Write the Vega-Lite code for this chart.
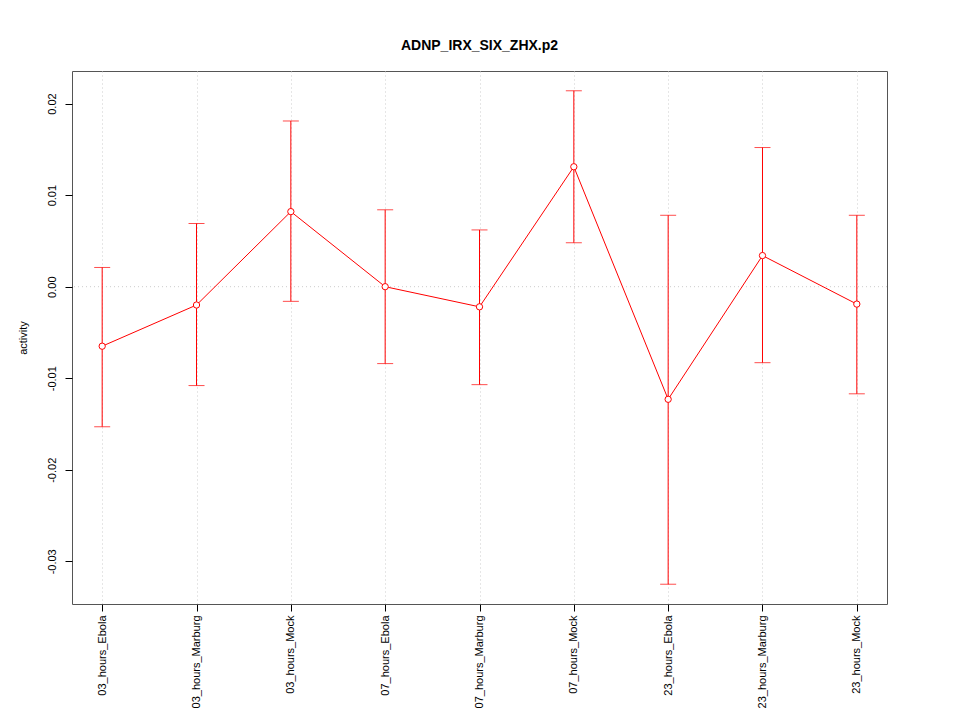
{
  "$schema": "https://vega.github.io/schema/vega-lite/v6.json",
  "width": 815,
  "height": 533,
  "autosize": {"type": "none"},
  "padding": {"left": 72, "top": 71, "right": 73, "bottom": 116},
  "background": "white",
  "title": {"text": "ADNP_IRX_SIX_ZHX.p2", "font": "Liberation Sans", "fontSize": 14, "fontWeight": "bold", "anchor": "middle", "offset": 18, "color": "black"},
  "config": {
    "view": {"stroke": "#555555", "strokeWidth": 1},
    "font": "Liberation Sans"
  },
  "data": {"values": [
    {"group": "03_hours_Ebola", "activity": -0.0065, "upper": 0.0021, "lower": -0.0153},
    {"group": "03_hours_Marburg", "activity": -0.0020, "upper": 0.0069, "lower": -0.0108},
    {"group": "03_hours_Mock", "activity": 0.0082, "upper": 0.0181, "lower": -0.0016},
    {"group": "07_hours_Ebola", "activity": 0.0000, "upper": 0.0084, "lower": -0.0084},
    {"group": "07_hours_Marburg", "activity": -0.0022, "upper": 0.0062, "lower": -0.0107},
    {"group": "07_hours_Mock", "activity": 0.0131, "upper": 0.0214, "lower": 0.0048},
    {"group": "23_hours_Ebola", "activity": -0.0123, "upper": 0.0078, "lower": -0.0325},
    {"group": "23_hours_Marburg", "activity": 0.0034, "upper": 0.0152, "lower": -0.0083},
    {"group": "23_hours_Mock", "activity": -0.0019, "upper": 0.0078, "lower": -0.0117}
  ]},
  "encoding": {
    "x": {"field": "group", "type": "nominal", "sort": null,
      "scale": {"type": "point", "padding": 0.32},
      "axis": {"title": null, "labelAngle": -90, "labelAlign": "right", "labelBaseline": "middle", "labelFontSize": 11, "labelColor": "black", "labelPadding": 4, "tickSize": 7, "tickColor": "black", "domain": false, "grid": true, "gridColor": "#cccccc", "gridDash": [1, 3], "labelFont": "Liberation Sans"}}
  },
  "layer": [
    {
      "data": {"values": [{"zero": 0}]},
      "mark": {"type": "rule", "color": "#cccccc", "strokeDash": [1, 3]},
      "encoding": {"y": {"field": "zero", "type": "quantitative", "scale": {"domain": [-0.03466, 0.02356], "nice": false, "zero": false}}, "x": null}
    },
    {
      "mark": {"type": "rule", "color": "#ff0000", "strokeWidth": 1},
      "encoding": {
        "y": {"field": "lower", "type": "quantitative", "scale": {"domain": [-0.03466, 0.02356], "nice": false, "zero": false},
          "axis": {"title": "activity", "titleFontWeight": "normal", "titleFontSize": 11, "titleColor": "black", "titlePadding": 18, "values": [-0.03, -0.02, -0.01, 0, 0.01, 0.02], "labelExpr": "replace(format(datum.value, '.2f'), '\u2212', '-')", "labelAngle": -90, "labelAlign": "center", "labelBaseline": "bottom", "labelPadding": 8, "labelFontSize": 11, "labelColor": "black", "tickSize": 7, "tickColor": "black", "domain": false, "grid": false}},
        "y2": {"field": "upper"}
      }
    },
    {
      "mark": {"type": "tick", "color": "#ff0000", "size": 16, "thickness": 1, "orient": "horizontal"},
      "encoding": {"y": {"field": "upper", "type": "quantitative"}}
    },
    {
      "mark": {"type": "tick", "color": "#ff0000", "size": 16, "thickness": 1, "orient": "horizontal"},
      "encoding": {"y": {"field": "lower", "type": "quantitative"}}
    },
    {
      "mark": {"type": "line", "color": "#ff0000", "strokeWidth": 1},
      "encoding": {"y": {"field": "activity", "type": "quantitative"}}
    },
    {
      "mark": {"type": "point", "shape": "circle", "color": "#ff0000", "filled": false, "fill": "white", "fillOpacity": 1, "strokeWidth": 1, "size": 40, "opacity": 1},
      "encoding": {"y": {"field": "activity", "type": "quantitative"}}
    }
  ]
}
